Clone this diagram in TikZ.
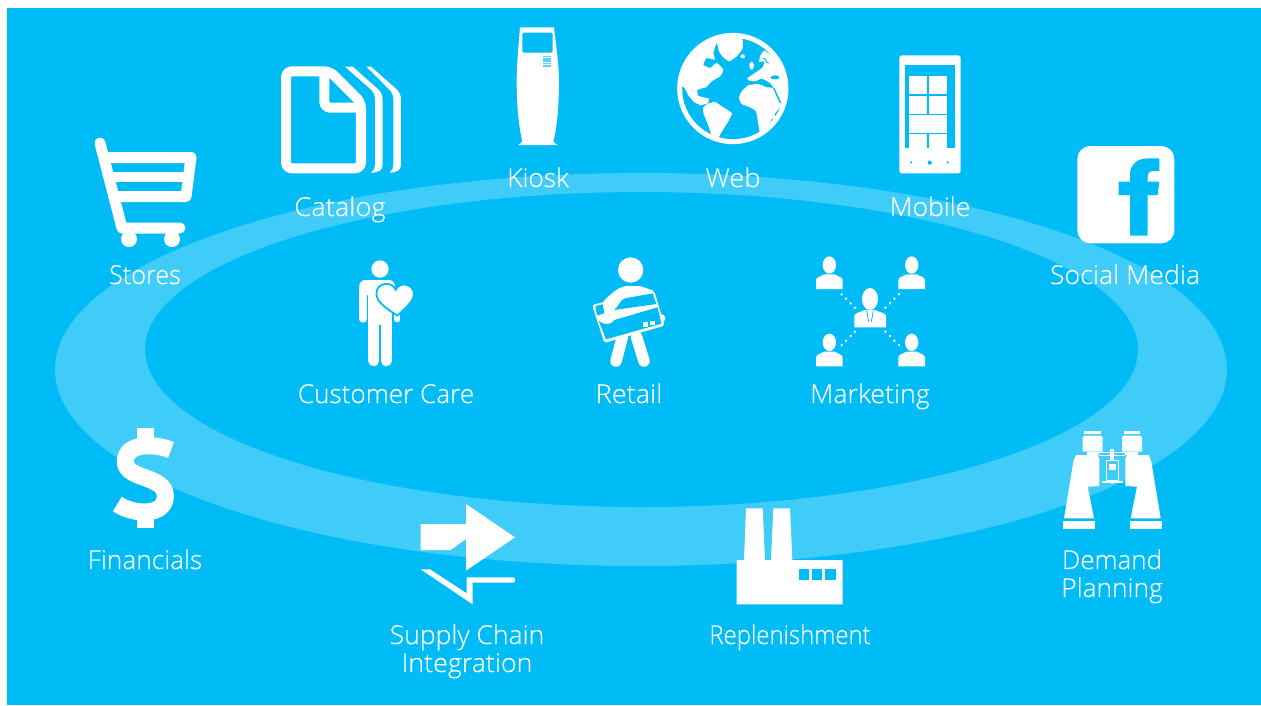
\documentclass[tikz,border=0pt]{standalone}
\usepackage{fontspec}
\setmainfont{Open Sans Light}[FakeBold=0.2]
\definecolor{skyb}{HTML}{00BCF6}
\definecolor{ringb}{HTML}{40CCF8}
\tikzset{
  z/.style 2 args={shift={(#1,#2)},scale=1/3},
  lab/.style={text=white,font=\fontsize{26}{28}\selectfont,anchor=base,inner sep=0pt},
  ink/.style={fill=white},
  sea/.style={fill=skyb},
}
\newcommand\lb[2]{\scalebox{#1}[1]{#2}}
\newcommand\binoside{%
  \fill[ink] (133,32) rectangle (183,42);
  \fill[ink] (132,47) -- (184,47) -- (188,52) -- (188,95) -- (128,95) -- (128,52) -- cycle;
  \fill[ink] (140,95) rectangle (178,105);
  \fill[ink] (108,105) -- (172,105) -- (178,115) -- (178,198) -- (143,200) -- (162,295) -- (72,295) -- (100,125) -- cycle;
  \fill[ink] (68,303) rectangle (165,326);
  \fill[ink] (178,95) rectangle (217,100);
  \fill[ink] (178,104) rectangle (217,109);
  \fill[ink] (186,183) rectangle (217,188);
}
\newcommand\pplsmall[2]{%
  \begin{scope}[shift={(#1,#2)}]
    \fill[ink] (0,25) ellipse [x radius=20,y radius=26];
    \fill[ink] (-40,97) -- (-40,70) .. controls (-38,60) and (-26,60) .. (-16,53) -- (16,53) .. controls (26,60) and (38,60) .. (40,70) -- (40,97) -- cycle;
  \end{scope}}
\begin{document}
\begin{tikzpicture}[x=1pt,y=-1pt]
\useasboundingbox (0,0) rectangle (1261,705);
\fill[white] (0,0) rectangle (1261,705);
\fill[skyb] (7,8) rectangle (1261,705);
\fill[ringb,even odd rule] (641,369.5) ellipse [x radius=586,y radius=196.5] (641.5,349.5) ellipse [x radius=496.5,y radius=157.5];

% Stores
\draw[white,line width=11pt,line cap=round,line join=round] (100,143) -- (122,228) -- (180,228);
\draw[white,line width=11pt,line cap=round,line join=round] (107,157.5) -- (191,157.5) -- (186,196.5) -- (114,196.5);
\draw[white,line width=10pt] (108,177) -- (188,177);
\fill[ink] (129,239) circle [radius=8];
\fill[ink] (172,239) circle [radius=8];

% Catalog
\begin{scope}[z={80}{50}]
  \draw[white,line width=10pt,line join=round,rounded corners=6pt] (618,64) -- (750,64) -- (843,157) -- (843,355) -- (618,355) -- cycle;
  \draw[white,line width=10pt,rounded corners=6pt] (733,64) -- (733,173) -- (843,173);
  \fill[ink] (795,50) -- (818,50) -- (895,118) .. controls (904,128) and (908,135) .. (908,150) -- (908,345) .. controls (908,360) and (895,368) .. (873,368) .. controls (882,360) and (885,355) .. (885,345) -- (885,150) .. controls (885,135) and (880,125) .. (872,118) -- cycle;
  \fill[ink] (860,50) -- (873,50) -- (950,118) .. controls (959,128) and (963,135) .. (963,150) -- (963,345) .. controls (963,360) and (950,368) .. (928,368) .. controls (937,360) and (940,355) .. (940,345) -- (940,150) .. controls (940,135) and (935,125) .. (927,118) -- cycle;
\end{scope}

% Kiosk
\begin{scope}[z={490}{15}]
  \fill[ink] (90,37) -- (192,37) .. controls (200,110) and (207,150) .. (207,200) .. controls (207,280) and (200,340) .. (190,380) -- (202,390) -- (85,390) -- (97,380) .. controls (88,340) and (80,280) .. (80,200) .. controls (80,150) and (85,100) .. (90,37) -- cycle;
  \fill[sea,rounded corners=1.5pt] (97,53) rectangle (188,113);
  \foreach \cx in {160,166,172,178} \foreach \cy in {122,129,136,143,150}
    \fill[skyb!65!white] (\cx,\cy) rectangle ++(4.5,5);
\end{scope}

% Web
\begin{scope}[z={670}{28}]
  \fill[ink] (188.5,181.5) circle [radius=167];
  \fill[sea] (188.5,181.5) circle [radius=152];
  \begin{scope}
    \clip (188.5,181.5) circle [radius=160];
    \fill[ink] plot[smooth cycle,tension=.3] coordinates {(215,25) (218,60) (200,85) (178,100) (160,88) (148,72) (140,45) (130,75) (135,95) (110,90) (100,110) (120,120) (140,105) (160,125) (150,145) (125,160) (108,178) (92,182) (80,188) (76,198) (60,205) (42,178) (20,170) (40,90) (100,30) (170,15)};
    \fill[ink] (42,176) -- (82,190) -- (84,204) -- (118,212) -- (114,226) -- (92,232) -- (72,222) -- (56,204) -- cycle;
    \fill[sea] (84,190) -- (108,184) -- (102,192) -- (86,197) -- cycle;
    \fill[ink] plot[smooth cycle,tension=.3] coordinates {(100,238) (112,228) (135,222) (160,238) (186,256) (172,285) (150,320) (140,345) (125,345) (122,315) (112,285) (100,255)};
    \fill[ink] plot[smooth cycle,tension=.3] coordinates {(235,172) (265,168) (290,178) (308,180) (320,205) (334,232) (310,262) (298,290) (285,315) (272,322) (265,290) (258,250) (240,238) (215,228) (207,210) (215,190)};
    \fill[ink] plot[smooth cycle,tension=.3] coordinates {(283,68) (315,90) (345,130) (360,180) (350,230) (335,225) (318,190) (300,165) (275,152) (255,160) (236,157) (232,150) (255,135) (278,118) (283,100) (268,102) (270,85)};
    \fill[ink] (218,85) ellipse [x radius=7,y radius=6];
    \fill[ink] (245,113) ellipse [x radius=7,y radius=12];
    \fill[ink,rotate around={25:(312,268)}] (312,268) ellipse [x radius=6,y radius=24];
    \fill[sea] (315,148) ellipse [x radius=13,y radius=6];
    \draw[skyb,line width=1pt] (280,90) .. controls (292,92) and (282,100) .. (296,106);
    \draw[skyb,line width=1pt] (312,180) -- (330,225);
  \end{scope}
\end{scope}

% Mobile
\begin{scope}[z={880}{40}]
  \fill[ink,rounded corners=2.5pt] (58,46) rectangle (242,400);
  \fill[sea] (74,75) rectangle (225,325);
  \fill[ink] (88,108) rectangle (142,162);
  \fill[ink] (148,108) rectangle (200,162);
  \fill[ink] (88,167) rectangle (142,222);
  \fill[ink] (148,167) rectangle (200,222);
  \fill[ink] (88,226) rectangle (200,278);
  \fill[ink] (88,283) rectangle (142,330);
  \fill[ink] (148,283) rectangle (200,330);
  \fill[sea] (93,367) circle [radius=3.5];
  \fill[sea] (149,368) circle [radius=6.5];
  \fill[sea] (203,367) circle [radius=3.5];
\end{scope}

% Social Media
\begin{scope}[z={880}{40}]
  \fill[ink,rounded corners=13pt] (592,318) rectangle (883,610);
  \fill[sea] (750,587) -- (750,465) -- (716,465) -- (716,425) -- (750,425) -- (750,405) .. controls (750,375) and (770,355) .. (805,355) -- (838,355) -- (838,393) -- (820,393) .. controls (808,393) and (803,400) .. (803,412) -- (803,425) -- (838,425) -- (833,465) -- (803,465) -- (803,587) -- cycle;
\end{scope}

% Customer Care
\begin{scope}[z={340}{245}]
  \fill[ink] (120,72) circle [radius=26];
  \fill[ink,rounded corners=6pt] (58,150) -- (58,105) -- (165,105) -- (165,150) -- cycle;
  \draw[white,line width=7.3pt,line cap=round] (69,130) -- (69,222);
  \fill[ink] (85,130) rectangle (155,240);
  \draw[white,line width=11pt,line cap=round] (101.5,232) -- (101.5,347);
  \draw[white,line width=11pt,line cap=round] (138.5,232) -- (138.5,347);
  \draw[white,line width=6pt,line cap=round] (172,190) -- (172,223);
  \fill[ink,draw=skyb,line width=1.8pt,line join=round] (172,212) .. controls (130,185) and (105,165) .. (110,140) .. controls (112,115) and (155,105) .. (167,135) .. controls (180,105) and (222,120) .. (222,145) .. controls (222,170) and (195,190) .. (172,212) -- cycle;
\end{scope}

% Retail
\begin{scope}[z={585}{250}]
  \fill[ink] (137,60) circle [radius=38];
  \draw[white,line width=11.5pt,line cap=round] (112,262) -- (93,333);
  \draw[white,line width=11.5pt,line cap=round] (155,262) -- (177,333);
  \fill[ink] (55,155) .. controls (75,135) and (95,112) .. (125,108) -- (165,108) -- (205,122) -- (120,200) -- cycle;
  \fill[ink] (228,205) circle [radius=13];
  \fill[ink,draw=white,line width=2pt,line join=round,rounded corners=2pt] (25,167) -- (205,124) -- (235,225) -- (60,275) -- cycle;
  \fill[sea] (31,168) -- (53,163) -- (58,190) -- (36,196) -- cycle;
  \fill[sea] (88,180) .. controls (100,170) and (105,150) .. (120,145) -- (203,130) -- (214,162) -- cycle;
  \fill[sea] (41,212) .. controls (50,222) and (75,230) .. (88,210) -- (218,172) -- (229,221) -- (63,268) -- cycle;
  \fill[ink] (175,217) rectangle (190,230);
  \fill[ink] (196,212) rectangle (211,225);
\end{scope}

% Marketing
\begin{scope}[z={800}{245}]
  \pplsmall{88}{35}
  \pplsmall{335}{35}
  \pplsmall{88}{267}
  \pplsmall{335}{267}
  \fill[ink] (210,162) ellipse [x radius=24,y radius=33];
  \fill[ink] (163,247) -- (163,212) .. controls (166,202) and (182,202) .. (195,195) -- (225,195) .. controls (238,202) and (254,202) .. (258,212) -- (258,247) -- cycle;
  \draw[skyb,line width=.8pt] (200,197) -- (206,230);
  \draw[skyb,line width=.8pt] (220,197) -- (214,230);
  \foreach \dx/\dy in {125/148,138/161,152/175,165/188,297/148,283/161,270/175,256/188,165/260,152/273,138/287,125/300,256/260,270/273,283/287,297/300}
    \fill[ink] (\dx,\dy) circle [radius=4.2];
\end{scope}

% Financials
\begin{scope}[z={90}{420}]
  \fill[ink] (140,25) rectangle (192,70);
  \fill[ink] (140,285) rectangle (192,325);
  \draw[white,line width=17pt] (243,90) .. controls (200,72) and (106,65) .. (106,125) .. controls (106,180) and (226,165) .. (226,228) .. controls (226,290) and (130,285) .. (82,252);
\end{scope}

% Supply Chain
\begin{scope}[z={400}{490}]
  \fill[ink] (62,102) -- (198,102) -- (198,42) -- (345,142) -- (198,242) -- (198,147) -- (152,180) -- (62,180) -- cycle;
  \fill[ink,line join=round] (62,238) -- (90,238) -- (200,310) -- (200,262) -- (340,262) .. controls (347,262) and (347,278) .. (340,278) -- (218,278) -- (218,343) -- cycle;
\end{scope}

% Replenishment
\begin{scope}[z={400}{490}]
  \fill[ink] (1010,210) -- (1032,210) -- (1038,55) -- (1088,55) -- (1095,210) -- (1113,210) -- (1120,55) -- (1170,55) -- (1177,210) -- (1328,210) -- (1328,343) -- (1010,343) -- cycle;
  \fill[sea] (1197,236) rectangle (1228,270);
  \fill[sea] (1237,236) rectangle (1267,270);
  \fill[sea] (1275,236) rectangle (1307,270);
\end{scope}

% Demand Planning
\begin{scope}[z={1040}{420}]
  \binoside
  \fill[ink] (211,88) rectangle (223,122);
  \draw[white,line width=1.6pt] (199,122) rectangle (235,182);
  \fill[ink] (207,132) rectangle (227,150);
  \fill[ink] (211,182) -- (223,182) -- (223,187) -- (217,192) -- (211,187) -- cycle;
\end{scope}
\begin{scope}[shift={(1184.667,420)},xscale=-1/3,yscale=1/3]
  \binoside
\end{scope}

% Labels
\node[lab] (stores) at (145,284) {\lb{.97}{Stores}};
\node[lab] (catalog) at (340,216) {\lb{1.05}{Catalog}};
\node[lab] (kiosk) at (538,187) {\lb{1.01}{Kiosk}};
\node[lab] (web) at (733,187) {\lb{1.05}{Web}};
\node[lab] (mobile) at (930,216) {\lb{1.02}{Mobile}};
\node[lab] (social) at (1125,284) {\lb{1.03}{Social Media}};
\node[lab] (care) at (386,403) {\lb{1.005}{Customer Care}};
\node[lab] (retail) at (629,403) {\lb{1.04}{Retail}};
\node[lab] (marketing) at (870,403) {\lb{1.03}{Marketing}};
\node[lab] (fin) at (145,569) {\lb{1.01}{Financials}};
\node[lab] (sc1) at (467,644) {\lb{1.02}{Supply Chain}};
\node[lab] (sc2) at (467,672) {\lb{1.03}{Integration}};
\node[lab] (rep) at (790,644) {\lb{.92}{Replenishment}};
\node[lab] (dp1) at (1112,569) {\lb{1.0}{Demand}};
\node[lab] (dp2) at (1112,597) {\lb{1.01}{Planning}};
\end{tikzpicture}
\end{document}
